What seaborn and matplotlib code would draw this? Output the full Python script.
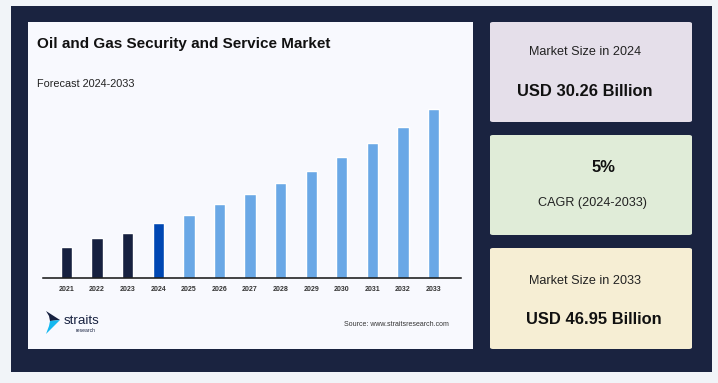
import matplotlib
matplotlib.use("Agg")
import matplotlib.pyplot as plt
import seaborn as sns
import pandas as pd
from matplotlib.patches import Rectangle, FancyBboxPatch, Polygon

# ==========================================
# DATA
# ==========================================
anos = ['2021', '2022', '2023', '2024', '2025', '2026', '2027',
        '2028', '2029', '2030', '2031', '2032', '2033']
# relative bar heights (illustrative scale)
valores = [31, 40, 45, 55, 63, 74, 84, 95, 107, 121, 135, 151, 169]
cores = ['#172140', '#172140', '#172140', '#0047b3'] + ['#6aa8e6'] * 9

titulo = 'Oil and Gas Security and Service Market'
subtitulo = 'Forecast 2024-2033'
fonte = 'Source: www.straitsresearch.com'
cartoes = [
    ('Market Size in 2024', 'USD 30.26 Billion', '#e5dfea'),
    ('5%', 'CAGR (2024-2033)', '#e0ecd8'),
    ('Market Size in 2033', 'USD 46.95 Billion', '#f6eed4'),
]

W, H = 718, 383

sns.set_theme(style="white")
plt.rcParams['font.family'] = ['Liberation Sans', 'DejaVu Sans']

fig = plt.figure(figsize=(W / 100, H / 100), dpi=100)
fig.patch.set_facecolor('#f1f4f8')


def fx(x):
    return x / W


def fy(y):
    return 1 - y / H


def caixa(x0, y0, x1, y1, cor, raio=0.0):
    if raio > 0:
        p = FancyBboxPatch((fx(x0), fy(y1)), fx(x1 - x0), (y1 - y0) / H,
                           boxstyle=f"round,pad=0,rounding_size={raio / W}",
                           transform=fig.transFigure, facecolor=cor,
                           edgecolor='none', zorder=0)
    else:
        p = Rectangle((fx(x0), fy(y1)), fx(x1 - x0), (y1 - y0) / H,
                      transform=fig.transFigure, facecolor=cor,
                      edgecolor='none', zorder=0)
    fig.add_artist(p)


# fundo azul escuro e painel branco
caixa(11, 6, 712, 372, '#1a2340')
caixa(28, 22, 473, 349, '#f8f9fe')

# cartões da direita
ys = [(22, 122), (135, 235), (248, 349)]
for (t1, t2, cor), (y0, y1) in zip(cartoes, ys):
    caixa(490, y0, 692, y1, cor, raio=3)

fig.text(fx(585), fy(52), cartoes[0][0], ha='center', va='center', fontsize=9.1, color='#222222')
fig.text(fx(585), fy(91), cartoes[0][1], ha='center', va='center', fontsize=11.9,
         fontweight='bold', color='#111111')
fig.text(fx(603), fy(167), cartoes[1][0], ha='center', va='center', fontsize=11.9,
         fontweight='bold', color='#111111')
fig.text(fx(592), fy(203), cartoes[1][1], ha='center', va='center', fontsize=9.1, color='#222222')
fig.text(fx(585), fy(281), cartoes[2][0], ha='center', va='center', fontsize=9.1, color='#222222')
fig.text(fx(594), fy(320), cartoes[2][1], ha='center', va='center', fontsize=11.9,
         fontweight='bold', color='#111111')

# títulos
fig.text(fx(37), fy(44), titulo, ha='left', va='center', fontsize=11,
         fontweight='bold', color='#111111')
fig.text(fx(37), fy(84), subtitulo, ha='left', va='center', fontsize=7.8, color='#222222')

# ==========================================
# GRÁFICO DE BARRAS
# ==========================================
topo, base = 100, 278
ax = fig.add_axes([fx(43), fy(base), fx(461 - 43), (base - topo) / H])
df = pd.DataFrame({'ano': anos, 'valor': valores})
sns.barplot(data=df, x='ano', y='valor', hue='ano', palette=cores,
            width=0.37, legend=False, ax=ax, saturation=1)
ax.set_xlim(-0.77, 12.9)
ax.set_ylim(0, base - topo)
ax.set_facecolor('none')
for lado in ['top', 'right', 'left']:
    ax.spines[lado].set_visible(False)
ax.spines['bottom'].set_color('#111111')
ax.spines['bottom'].set_linewidth(1.1)
ax.set_yticks([])
ax.set_xlabel('')
ax.set_ylabel('')
ax.tick_params(axis='x', length=0, pad=6, labelsize=5, colors='#333333')
for lbl in ax.get_xticklabels():
    lbl.set_fontweight('bold')

# ==========================================
# LOGO E FONTE
# ==========================================
fig.add_artist(Polygon([(fx(46), fy(311)), (fx(60), fy(320)), (fx(50), fy(321)), (fx(49), fy(316))],
                       closed=True, transform=fig.transFigure, facecolor='#172140',
                       edgecolor='none'))
fig.add_artist(Polygon([(fx(50), fy(321)), (fx(60), fy(320)), (fx(46), fy(334)), (fx(49), fy(326))],
                       closed=True, transform=fig.transFigure, facecolor='#14b8f0',
                       edgecolor='none'))
fig.text(fx(64), fy(321), 'straits', ha='left', va='center', fontsize=9.6, color='#172140')
fig.text(fx(76), fy(330), 'research', ha='left', va='center', fontsize=3.6, color='#172140')
fig.text(fx(449), fy(325), fonte, ha='right', va='center', fontsize=5, color='#333333')

fig.savefig('out.png', dpi=100, facecolor=fig.get_facecolor())
